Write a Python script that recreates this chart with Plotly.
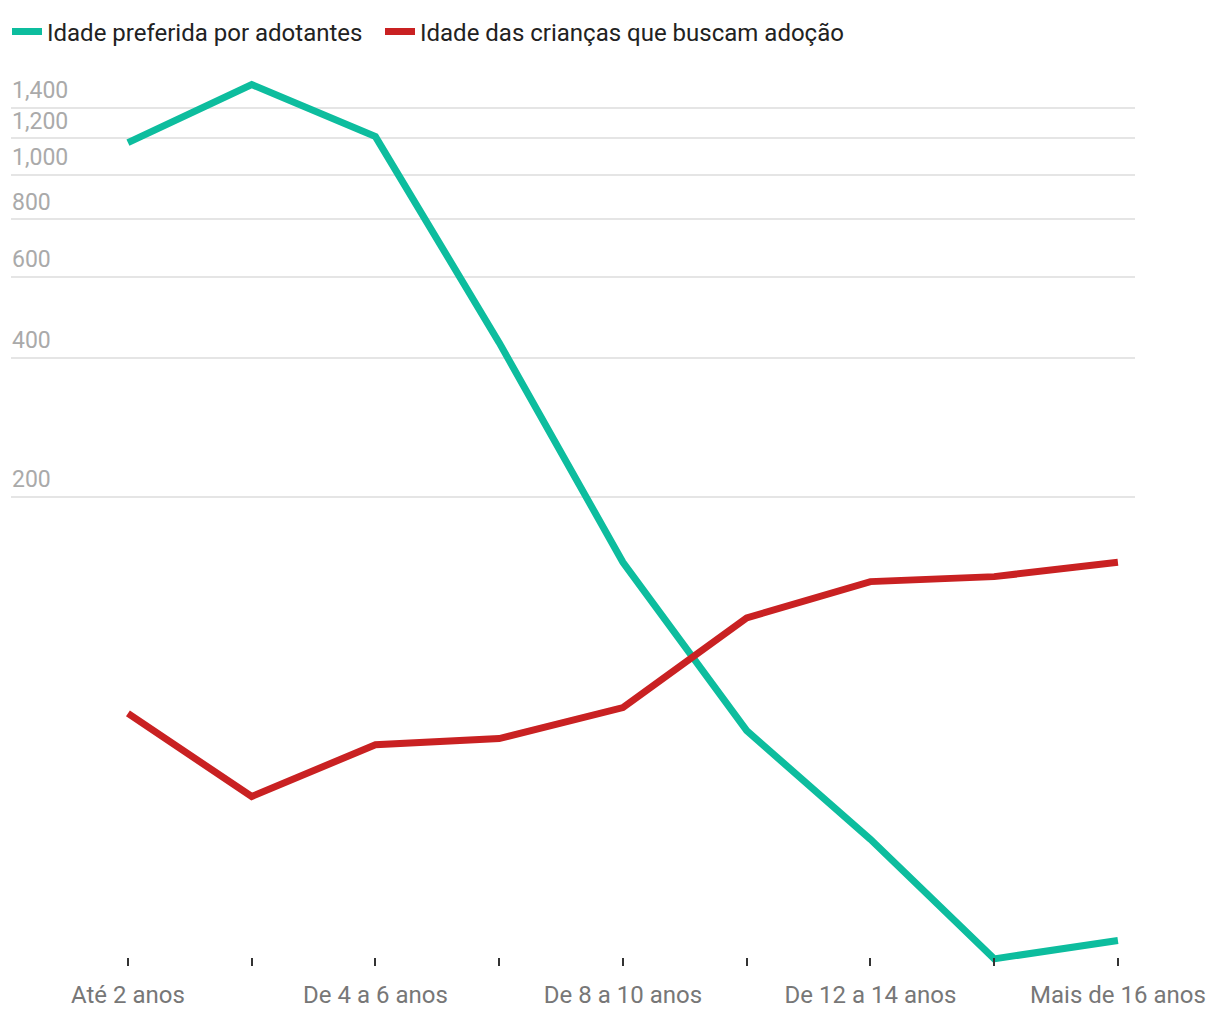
import plotly.graph_objects as go

categories = ["Até 2 anos", "De 2 a 4 anos", "De 4 a 6 anos", "De 6 a 8 anos",
              "De 8 a 10 anos", "De 10 a 12 anos", "De 12 a 14 anos",
              "De 14 a 16 anos", "Mais de 16 anos"]
preferida = [1175, 1571, 1211, 432, 144, 62, 36, 19.8, 21.7]
criancas = [67.6, 44.6, 57.8, 59.6, 69.6, 109, 130.7, 134, 144]
x_ticktext = ["Até 2 anos", "", "De 4 a 6 anos", "", "De 8 a 10 anos", "",
              "De 12 a 14 anos", "", "Mais de 16 anos"]
y_tickvals = [200, 400, 600, 800, 1000, 1200, 1400]
y_ticktext = ["200", "400", "600", "800", "1,000", "1,200", "1,400"]

FONT = "Roboto"
fig = go.Figure()
fig.add_trace(go.Scatter(x=categories, y=preferida, mode="lines",
                         name="Idade preferida por adotantes",
                         line=dict(color="#0dbd9e", width=7),
                         legend="legend"))
fig.add_trace(go.Scatter(x=categories, y=criancas, mode="lines",
                         name="Idade das crianças que buscam adoção",
                         line=dict(color="#c92122", width=7),
                         legend="legend2"))

legend_common = dict(orientation="h", xref="container", yref="container",
                     y=1 - 32 / 1020, xanchor="left", yanchor="middle",
                     font=dict(size=24, color="#222"),
                     bgcolor="rgba(0,0,0,0)")

fig.update_layout(
    width=1220, height=1020,
    margin=dict(l=11, r=85, t=71, b=51),
    paper_bgcolor="white", plot_bgcolor="white",
    font=dict(family=FONT, size=22, color="#222"),
    showlegend=True,
    legend=dict(x=7 / 1220, **legend_common),
    legend2=dict(x=380 / 1220, **legend_common),
    xaxis=dict(type="category", range=[-0.945, 8.138],
               tickvals=categories, ticktext=x_ticktext,
               ticks="inside", ticklen=8, tickwidth=2, tickcolor="#333",
               ticklabelstandoff=12,
               showgrid=False, showline=False, zeroline=False,
               tickfont=dict(size=24, color="#777")),
    yaxis=dict(type="log", range=[1.2811, 3.2257],
               tickvals=y_tickvals, ticktext=y_ticktext,
               ticklabelposition="inside", ticklabelshift=-18,
               ticklabelstandoff=-2,
               showgrid=True, gridcolor="#e5e5e5", gridwidth=2,
               showline=False, zeroline=False, ticks="",
               tickfont=dict(size=23, color="#aaa")),
)

fig.write_html("out.html")
